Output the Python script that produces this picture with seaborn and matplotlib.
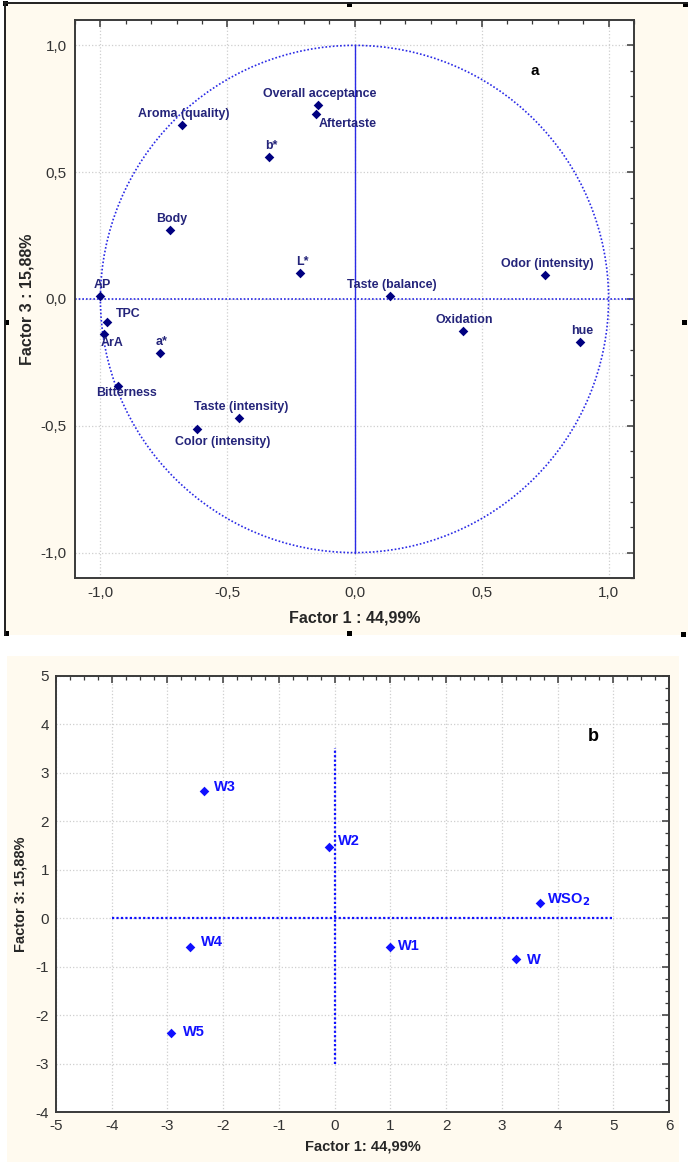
import matplotlib
matplotlib.use("Agg")
import matplotlib.pyplot as plt
import seaborn as sns
from matplotlib.patches import Circle, Rectangle
from matplotlib.ticker import MultipleLocator, FuncFormatter

# panel a: variable loadings on factor 1 / factor 3
var_names = ["Overall acceptance", "Aftertaste", "Aroma (quality)", "b*", "Body", "L*", "AP",
             "Taste (balance)", "Odor (intensity)", "TPC", "ArA", "a*", "Bitterness",
             "Taste (intensity)", "Color (intensity)", "Oxidation", "hue"]
var_f1 = [-0.145, -0.152, -0.679, -0.336, -0.728, -0.213, -1.0, 0.139, 0.749,
          -0.976, -0.986, -0.766, -0.929, -0.454, -0.619, 0.426, 0.889]
var_f3 = [0.765, 0.729, 0.685, 0.559, 0.274, 0.104, 0.011, 0.011, 0.096,
          -0.091, -0.138, -0.213, -0.344, -0.470, -0.514, -0.126, -0.170]

# panel b: sample scores
sample_names = ["W3", "W2", r"WSO$_\mathbf{2}$", "W4", "W1", "W", "W5"]
sample_f1 = [-2.34, -0.11, 3.68, -2.60, 0.99, 3.26, -2.93]
sample_f3 = [2.63, 1.47, 0.32, -0.59, -0.59, -0.85, -2.37]

sns.set_style("white")
plt.rcParams['font.family'] = ['Liberation Sans', 'DejaVu Sans']
plt.rcParams['axes.unicode_minus'] = False
NARROW = ['Liberation Sans Narrow', 'Liberation Sans', 'DejaVu Sans']

NAVY = '#000080'
NAVY_TXT = '#24247a'
BLUE = '#1010ff'
LINE_BLUE = '#2a2ae6'
CREAM = '#fffaef'

W, H = 688, 1162
fig = plt.figure(figsize=(W / 100, H / 100), dpi=100)

# background panels, frame and the little handles
bg = fig.add_axes([0, 0, 1, 1])
bg.set_xlim(0, W)
bg.set_ylim(H, 0)
bg.axis('off')
bg.set_zorder(-5)
bg.add_patch(Rectangle((4, 2), W - 4, 633, fc=CREAM, ec='none'))
bg.add_patch(Rectangle((7, 656), 672, H - 656, fc=CREAM, ec='none'))
bg.plot([4.5, 4.5], [2, 635], color='#202020', lw=1.4)
bg.plot([4, W], [2.5, 2.5], color='#202020', lw=1.4)
for hx, hy in [(5, 3), (349, 4), (685, 4), (6, 322), (684, 322), (6, 633), (349, 633), (683, 634)]:
    bg.add_patch(Rectangle((hx - 2.5, hy - 2.5), 5, 5, fc='black', ec='none'))


def comma_fmt(v, pos):
    if abs(v) < 1e-9:
        v = 0.0
    return f"{v:.1f}".replace('.', ',')


def style_axes(ax, pad):
    ax.set_facecolor('white')
    for sp in ax.spines.values():
        sp.set_visible(True)
        sp.set_color('#3a3a3a')
        sp.set_linewidth(1.4)
    ax.tick_params(which='both', direction='in', top=True, right=True, color='#3a3a3a')
    ax.tick_params(which='major', length=5, width=1.1, pad=pad, labelcolor='#333333')
    ax.tick_params(which='minor', length=3, width=0.9)
    ax.grid(True, which='major', color='#cfcfcf', ls=':', lw=0.9)
    ax.set_axisbelow(True)


# ---------------- panel a ----------------
ax_a = fig.add_axes([75 / W, 1 - 578 / H, (634 - 75) / W, (578 - 20) / H])
style_axes(ax_a, 6)
ax_a.set_xlim(-1.1, 1.1)
ax_a.set_ylim(-1.1, 1.1)
ax_a.add_patch(Circle((0, 0), 1.0, fill=False, ls=(0, (1, 1.2)), color=LINE_BLUE, lw=1.2, zorder=2))
ax_a.axhline(0, ls=(0, (1, 1.2)), color=LINE_BLUE, lw=1.2, zorder=2)
ax_a.plot([0, 0], [-1, 1], color=LINE_BLUE, lw=1.0, zorder=2)
sns.scatterplot(x=var_f1, y=var_f3, marker='D', s=24, color=NAVY, edgecolor=NAVY,
                linewidth=0, ax=ax_a, zorder=5, legend=False)

label_shift_a = {"Aftertaste": (32, -9.5), "TPC": (22, 8), "ArA": (8, -9),
                 "Bitterness": (8, -6.5), "Color (intensity)": (25, -13)}
for name, x, y in zip(var_names, var_f1, var_f3):
    dx, dy = label_shift_a.get(name, (2, 11))
    ax_a.annotate(name, (x, y), xytext=(dx, dy), textcoords='offset pixels',
                  ha='center', va='center', fontsize=8.9, fontweight='bold', color=NAVY_TXT, zorder=6)

ax_a.text(0.71, 0.897, "a", fontsize=11, fontweight='bold', ha='center', va='center', color='black')
ax_a.xaxis.set_major_locator(MultipleLocator(0.5))
ax_a.xaxis.set_minor_locator(MultipleLocator(0.1))
ax_a.yaxis.set_major_locator(MultipleLocator(0.5))
ax_a.yaxis.set_minor_locator(MultipleLocator(0.1))
ax_a.xaxis.set_major_formatter(FuncFormatter(comma_fmt))
ax_a.yaxis.set_major_formatter(FuncFormatter(comma_fmt))
ax_a.tick_params(which='major', labelsize=11)
ax_a.set_xlabel("Factor 1 : 44,99%", fontsize=11.5, fontweight='bold', family=NARROW, labelpad=7)
ax_a.set_ylabel("Factor 3 : 15,88%", fontsize=11.5, fontweight='bold', family=NARROW, labelpad=4)

# ---------------- panel b ----------------
ax_b = fig.add_axes([56 / W, 1 - 1112 / H, (669 - 56) / W, (1112 - 675.7) / H])
style_axes(ax_b, 5)
ax_b.set_xlim(-5, 6)
ax_b.set_ylim(-4, 5)
ax_b.plot([-4, 5], [0, 0], ls=(0, (1, 1)), color=BLUE, lw=1.6, zorder=2)
ax_b.plot([0, 0], [-3, 3.5], ls=(0, (1, 1)), color=BLUE, lw=1.6, zorder=2)
sns.scatterplot(x=sample_f1, y=sample_f3, marker='D', s=24, color=BLUE, edgecolor=BLUE,
                linewidth=0, ax=ax_b, zorder=5, legend=False)

label_shift_b = {"W3": (10, 4), "W2": (9, 5.5), r"WSO$_\mathbf{2}$": (7, 3), "W4": (11, 4.5),
                 "W1": (8, 0.5), "W": (10.5, -1), "W5": (12, 0.5)}
for name, x, y in zip(sample_names, sample_f1, sample_f3):
    dx, dy = label_shift_b[name]
    ax_b.annotate(name, (x, y), xytext=(dx, dy), textcoords='offset pixels',
                  ha='left', va='center', fontsize=10.5, fontweight='bold', color=BLUE, zorder=6)

ax_b.text(4.64, 3.74, "b", fontsize=13, fontweight='bold', ha='center', va='center', color='black')
ax_b.xaxis.set_major_locator(MultipleLocator(1))
ax_b.xaxis.set_minor_locator(MultipleLocator(0.25))
ax_b.yaxis.set_major_locator(MultipleLocator(1))
ax_b.yaxis.set_minor_locator(MultipleLocator(0.25))
ax_b.tick_params(which='major', labelsize=11)
for lbl in ax_b.get_xticklabels() + ax_b.get_yticklabels():
    lbl.set_family(NARROW)
ax_b.set_xlabel("Factor 1: 44,99%", fontsize=10.5, fontweight='bold', family=NARROW, labelpad=5)
ax_b.set_ylabel("Factor 3: 15,88%", fontsize=10.5, fontweight='bold', family=NARROW, labelpad=6)

fig.savefig("out.png", dpi=100, facecolor='white')
